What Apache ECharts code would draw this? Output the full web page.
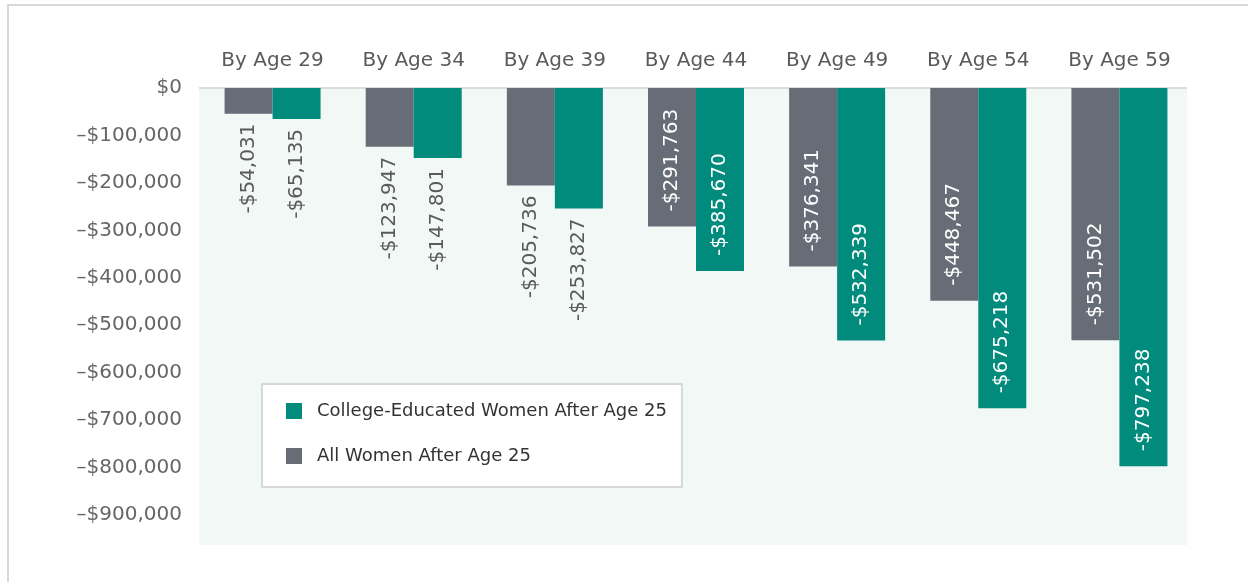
<!DOCTYPE html>
<html>
<head>
<meta charset="utf-8">
<script src="https://cdn.jsdelivr.net/npm/echarts@6/dist/echarts.min.js"></script>
<style>
  html, body { margin: 0; padding: 0; background: #fff; }
  #chart { width: 1248px; height: 582px; }
</style>
</head>
<body>
<div id="chart"></div>
<script>
  // data
  const categories = ['By Age 29', 'By Age 34', 'By Age 39', 'By Age 44', 'By Age 49', 'By Age 54', 'By Age 59']
  const allWomen = [-54031, -123947, -205736, -291763, -376341, -448467, -531502]
  const collegeWomen = [-65135, -147801, -253827, -385670, -532339, -675218, -797238]
  const yTicks = [0, -100000, -200000, -300000, -400000, -500000, -600000, -700000, -800000, -900000]

  const fontFam = '"DejaVu Sans", sans-serif'
  const gray = '#676d76'
  const teal = '#008b7d'

  const money = v => '-$' + Math.abs(v).toLocaleString('en-US')

  // label goes inside the bar only when the bar is long enough for it
  function withLabels(values) {
    return values.map(v => {
      const inside = Math.abs(v) > 270000
      return {
        value: v,
        label: inside
          ? { position: 'insideBottom', distance: 15, align: 'left', color: '#fff' }
          : { position: 'bottom', distance: 10, align: 'right', color: '#5a5a5a' },
      }
    })
  }

  const chart = echarts.init(document.getElementById('chart'))
  const barLabel = {
    show: true,
    rotate: 90,
    verticalAlign: 'middle',
    fontSize: 20,
    fontFamily: fontFam,
    formatter: p => money(p.value),
  }

  let option = {
    animation: false,
    textStyle: { fontFamily: fontFam },
    grid: { left: 202, right: 58, top: 88, height: 427, containLabel: false },
    graphic: [
      // plot background, runs a bit past the last tick
      { type: 'rect', left: 199, top: 88, z: -10, shape: { width: 988, height: 457 }, style: { fill: '#f2f8f6' } },
      // zero line across the full plot background
      { type: 'line', z: -5, shape: { x1: 199, y1: 88, x2: 1187, y2: 88 }, style: { stroke: '#dcdcdc', lineWidth: 2 } },
      // frame lines
      { type: 'polyline', z: -5, shape: { points: [[8, 582], [8, 5], [1248, 5]] }, style: { stroke: '#d9d9d9', lineWidth: 2, fill: null } },
    ],
    legend: {
      orient: 'vertical',
      left: 262,
      top: 384,
      data: ['College-Educated Women After Age 25', 'All Women After Age 25'],
      backgroundColor: '#fff',
      borderColor: '#d8d8d8',
      borderWidth: 2,
      padding: [18, 15, 22, 24],
      itemWidth: 16,
      itemHeight: 16,
      itemGap: 27,
      icon: 'rect',
      textStyle: { fontSize: 18, color: '#333', fontFamily: fontFam, padding: [0, 0, 0, 10] },
    },
    xAxis: {
      type: 'category',
      position: 'top',
      data: categories,
      axisTick: { show: false },
      axisLine: { show: false },
      axisLabel: { fontSize: 20, color: '#5a5a5a', margin: 17 },
    },
    yAxis: {
      type: 'value',
      min: -900000,
      max: 0,
      interval: 100000,
      splitLine: { show: false },
      axisLine: { show: false },
      axisLabel: {
        fontSize: 20,
        color: '#666',
        margin: 20,
        customValues: yTicks,
        formatter: v => (v === 0 ? '$0' : '\u2013$' + Math.abs(v).toLocaleString('en-US')),
      },
    },
    series: [
      {
        name: 'All Women After Age 25',
        type: 'bar',
        barWidth: 48,
        barGap: '0%',
        itemStyle: { color: gray },
        label: barLabel,
        data: withLabels(allWomen),
      },
      {
        name: 'College-Educated Women After Age 25',
        type: 'bar',
        barWidth: 48,
        itemStyle: { color: teal },
        label: barLabel,
        data: withLabels(collegeWomen),
      },
    ],
  }
  chart.setOption(option)
</script>
</body>
</html>
